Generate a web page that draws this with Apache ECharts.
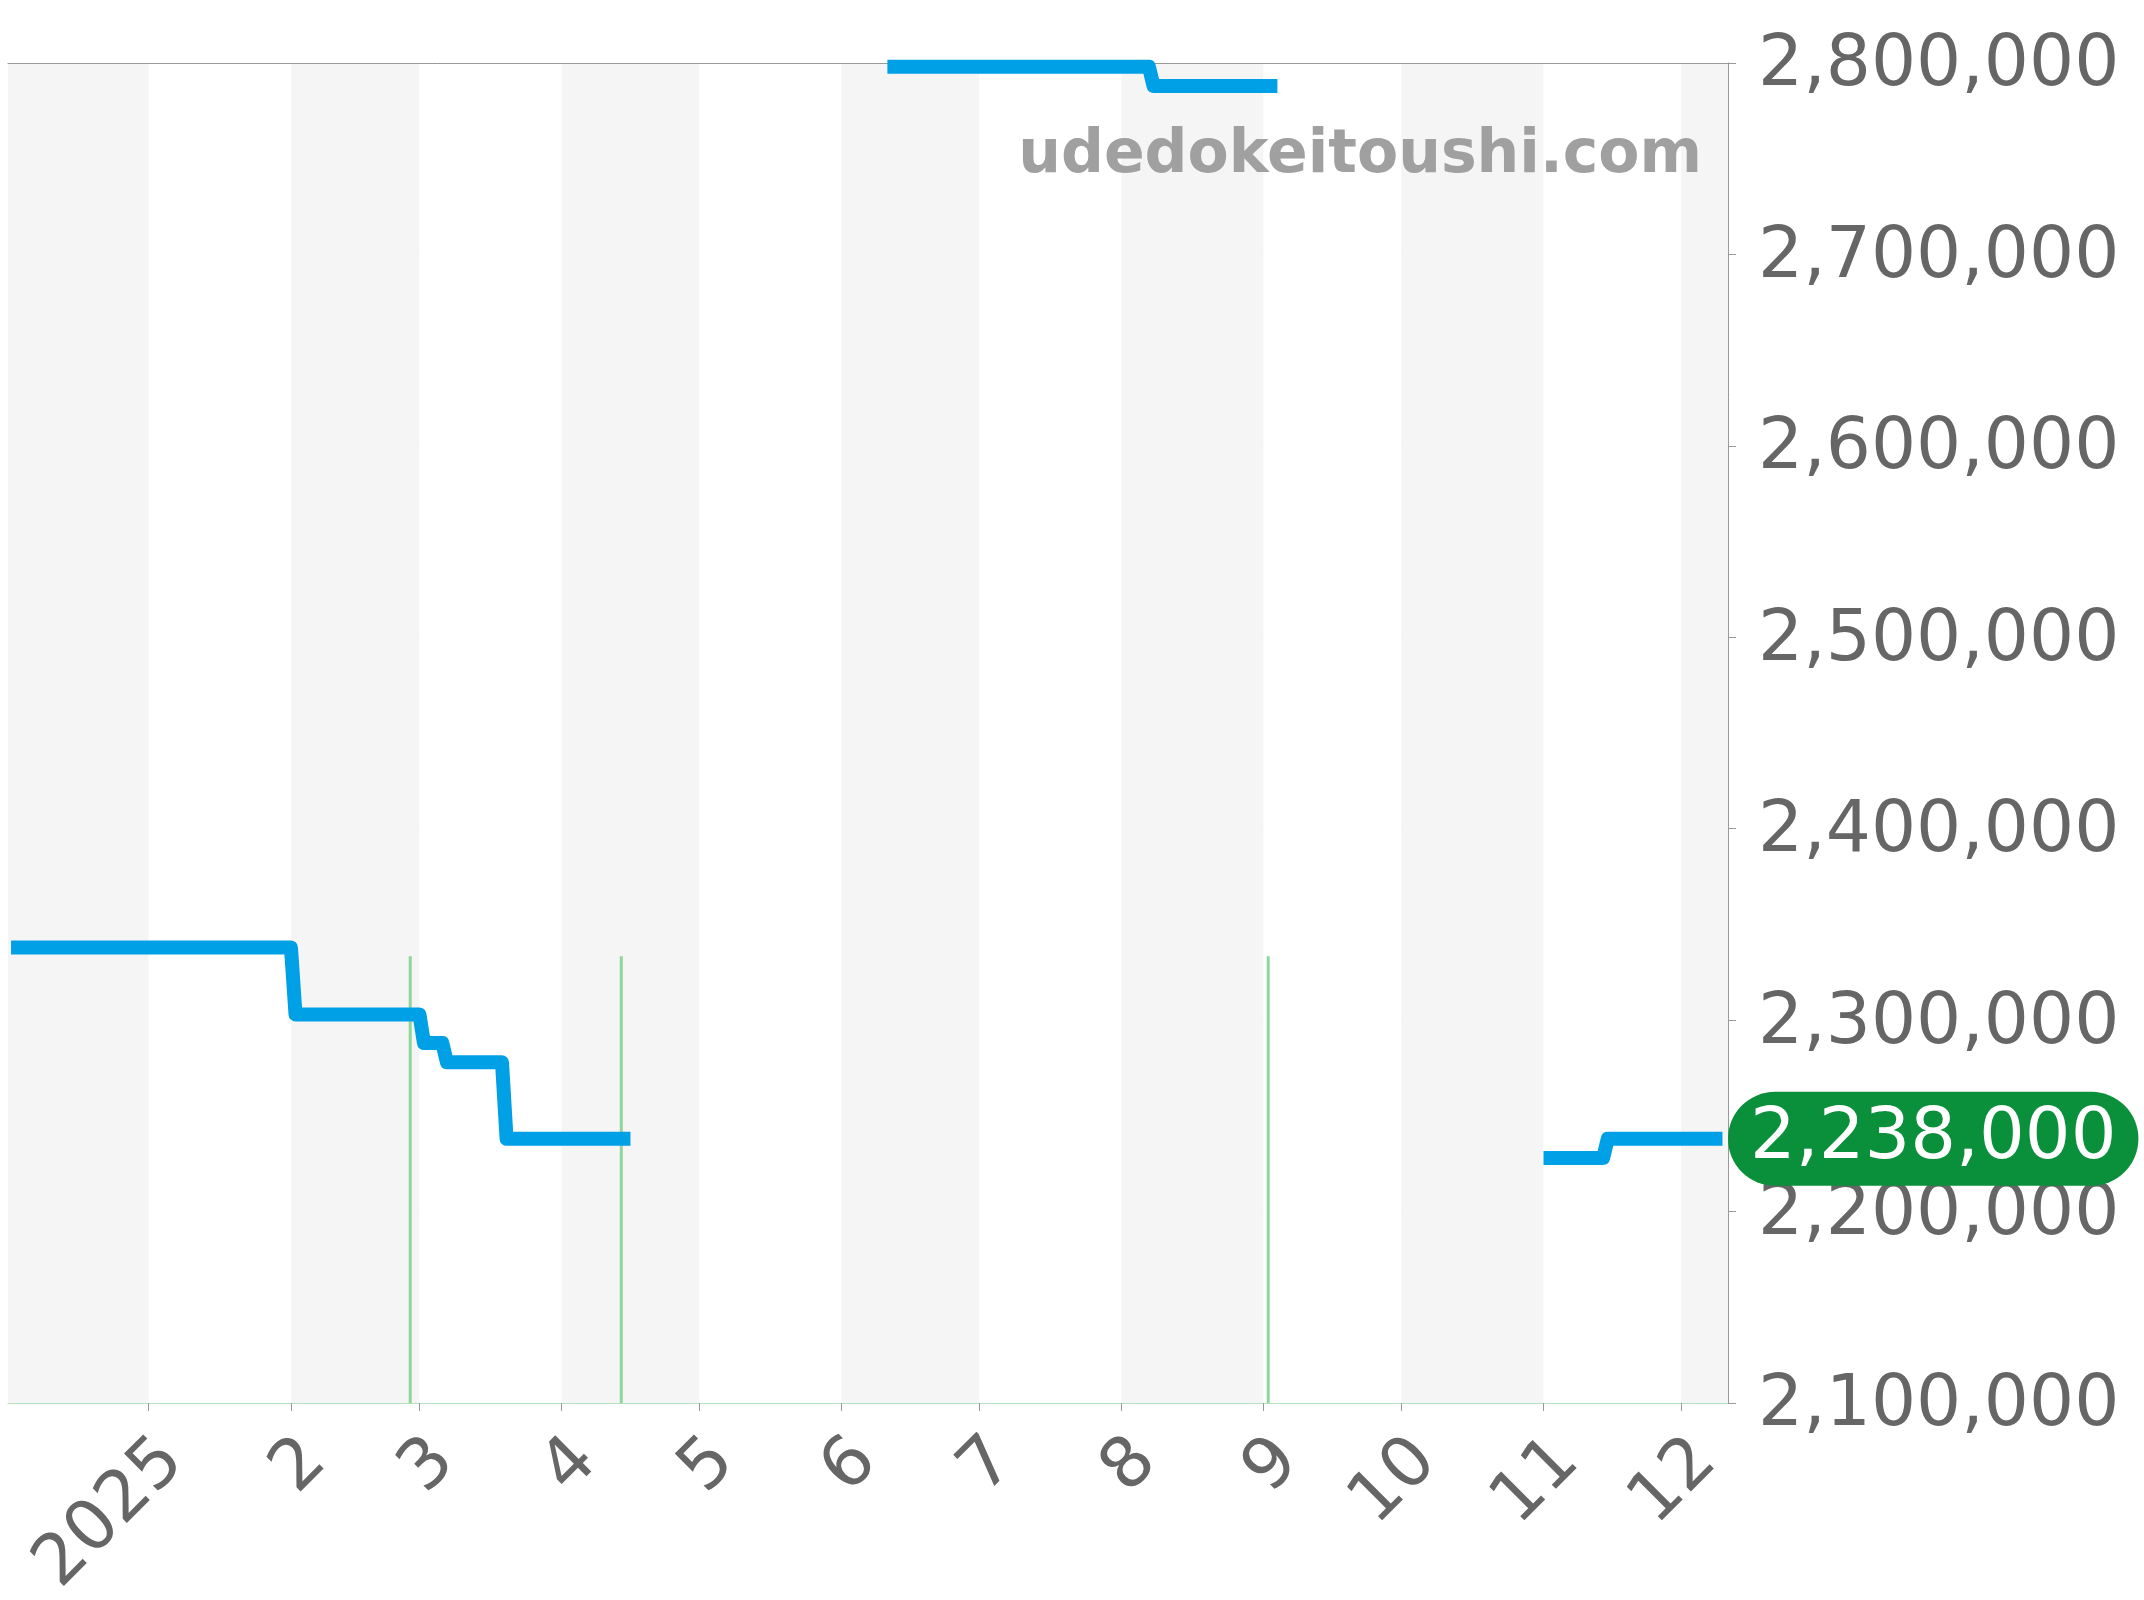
<!DOCTYPE html>
<html>
<head>
<meta charset="utf-8">
<script src="https://cdn.jsdelivr.net/npm/echarts@6/dist/echarts.min.js"></script>
<style>
    html, body { margin: 0; padding: 0; background: #fff; }
    #priceChart { width: 2144px; height: 1600px; }
</style>
</head>
<body>
<div id="priceChart"></div>
<script>
// 価格推移（null は欠測）
var priceDates = [
    '2024-12-02', '2025-02-01', '2025-02-02', '2025-03-01', '2025-03-02',
    '2025-03-06', '2025-03-07', '2025-03-19', '2025-03-20', '2025-04-16',
    '2025-04-17',
    '2025-06-11', '2025-08-07', '2025-08-08', '2025-09-04',
    '2025-09-05',
    '2025-11-01', '2025-11-14', '2025-11-15', '2025-12-10'
];
var priceValues = [
    2338000, 2338000, 2303000, 2303000, 2288000,
    2288000, 2278000, 2278000, 2238000, 2238000,
    null,
    2798000, 2798000, 2788000, 2788000,
    null,
    2228000, 2228000, 2238000, 2238000
];
// 緑の縦線（イベント日）
var eventDates = ['2025-02-27', '2025-04-14', '2025-09-02'];
var eventValue = 1;

var xMin = '2024-12-01 08:00';
var xMax = '2025-12-11 05:00';
var yTicks = [2100000, 2800000, 100000];
var watermark = 'udedokeitoushi.com';

var FONT = 'DejaVu Sans';

function buildPriceData() {
    return priceDates.map(function (d, i) { return [d, priceValues[i]]; });
}

function buildEventData() {
    var res = [];
    eventDates.forEach(function (d) {
        res.push([d, 0], [d, eventValue], [d, 0], [d, null]);
    });
    return res;
}

var latestPrice = priceValues[priceValues.length - 1];

var chart = echarts.init(document.getElementById('priceChart'), null, { renderer: 'canvas' });

var option = {
    animation: false,
    backgroundColor: '#fff',
    textStyle: { fontFamily: FONT },
    grid: { left: 8, right: 416, top: 63, bottom: 197, containLabel: false, outerBoundsMode: 'none' },
    graphic: [{
        type: 'text',
        right: 442,
        top: 126,
        style: {
            text: watermark,
            font: 'bold 60px "DejaVu Sans"',
            fill: '#a0a0a0'
        },
        z: 1
    }],
    xAxis: [{
        type: 'time',
        min: xMin,
        max: xMax,
        minInterval: 28 * 86400000,
        maxInterval: 31 * 86400000,
        axisLine: { show: true, lineStyle: { color: '#b5e0bb', width: 1 } },
        axisTick: { show: true, length: 8, lineStyle: { color: '#999' } },
        axisLabel: {
            rotate: 45,
            fontSize: 70,
            color: '#666',
            margin: 23,
            verticalAlign: 'top',
            fontFamily: FONT,
            hideOverlap: false,
            formatter: function (value) {
                var d = new Date(value);
                return d.getMonth() === 0 ? String(d.getFullYear()) : String(d.getMonth() + 1);
            }
        },
        splitLine: { show: false },
        splitArea: { show: true, areaStyle: { color: ['#f5f5f5', '#ffffff'] } }
    }, {
        type: 'time',
        position: 'top',
        min: xMin,
        max: xMax,
        axisLine: { show: true, lineStyle: { color: '#999', width: 1 } },
        axisTick: { show: false },
        axisLabel: { show: false },
        splitLine: { show: false }
    }],
    yAxis: [{
        type: 'value',
        position: 'right',
        min: yTicks[0],
        max: yTicks[1],
        interval: yTicks[2],
        axisLine: { show: true, lineStyle: { color: '#999' } },
        axisTick: { show: true, length: 8, lineStyle: { color: '#999' } },
        axisLabel: {
            color: '#666',
            margin: 30,
            fontFamily: FONT,
            formatter: function (v) { return '{v|' + echarts.format.addCommas(v) + '}'; },
            rich: {
                v: { fontSize: 71, color: '#666', fontFamily: FONT, padding: [8, 0, 0, 0] }
            }
        },
        splitLine: { show: true, lineStyle: { color: '#e8e8e8', width: 1 } }
    }, {
        type: 'value',
        min: 0,
        max: 3,
        show: false,
        splitLine: { show: false }
    }],
    series: [{
        name: 'event',
        type: 'line',
        yAxisIndex: 1,
        data: buildEventData(),
        symbol: 'none',
        connectNulls: false,
        lineStyle: { color: '#8fd69b', width: 3 },
        z: 2
    }, {
        name: 'price',
        type: 'line',
        data: buildPriceData(),
        symbol: 'none',
        connectNulls: false,
        lineStyle: { color: '#00a0e6', width: 14, join: 'round', cap: 'butt' },
        z: 3,
        markLine: {
            silent: true,
            symbol: 'none',
            lineStyle: { color: 'rgba(0,0,0,0)', width: 1 },
            data: [{ yAxis: latestPrice }],
            label: {
                show: true,
                position: 'end',
                distance: 0,
                formatter: function (p) { return echarts.format.addCommas(p.value); },
                color: '#fff',
                fontSize: 72,
                fontFamily: FONT,
                lineHeight: 76,
                backgroundColor: '#0a8f3b',
                borderRadius: 48,
                padding: [9, 22, 9, 22]
            }
        }
    }]
};

chart.setOption(option);
</script>
</body>
</html>
